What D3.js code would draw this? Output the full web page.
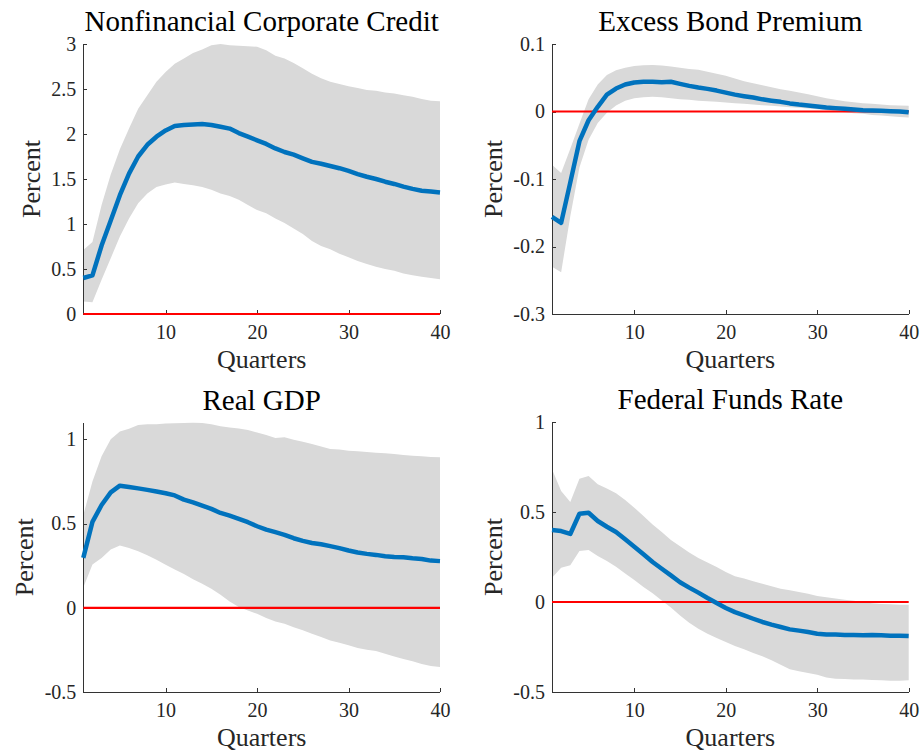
<!DOCTYPE html>
<html>
<head>
<meta charset="utf-8">
<script src="https://cdn.jsdelivr.net/npm/d3@7"></script>
<style>
	body { margin: 0; background: #fff; }
	svg { display: block; font-family: "Liberation Serif", "DejaVu Serif", serif; }
	.tick text { fill: #262626; font-size: 20px; }
	.axis path, .axis line { stroke: #333; shape-rendering: crispEdges; }
</style>
</head>
<body>
<div id="chart"></div>
<script>
// quarters after the shock
var quarters = d3.range(1, 41);
var xTicks = [10, 20, 30, 40];

// Nonfinancial corporate credit: median response and error band
var credit = [0.40, 0.43, 0.76, 1.04, 1.32, 1.56, 1.75, 1.88, 1.97, 2.04,
	2.09, 2.10, 2.105, 2.11, 2.10, 2.08, 2.06, 2.01, 1.97, 1.93,
	1.89, 1.84, 1.80, 1.77, 1.73, 1.69, 1.67, 1.645, 1.62, 1.59,
	1.555, 1.525, 1.50, 1.47, 1.445, 1.415, 1.39, 1.37, 1.36, 1.35];
var creditHi = [0.71, 0.80, 1.21, 1.55, 1.83, 2.06, 2.28, 2.43, 2.58, 2.69,
	2.78, 2.84, 2.90, 2.94, 2.985, 3.0, 2.985, 2.98, 2.975, 2.97,
	2.93, 2.87, 2.84, 2.79, 2.73, 2.67, 2.62, 2.58, 2.555, 2.53,
	2.51, 2.49, 2.48, 2.46, 2.45, 2.43, 2.415, 2.39, 2.37, 2.365];
var creditLo = [0.14, 0.13, 0.38, 0.62, 0.86, 1.06, 1.23, 1.34, 1.41, 1.44,
	1.46, 1.445, 1.43, 1.41, 1.38, 1.34, 1.31, 1.27, 1.21, 1.155,
	1.12, 1.06, 1.01, 0.95, 0.89, 0.81, 0.755, 0.72, 0.67, 0.63,
	0.59, 0.555, 0.525, 0.50, 0.48, 0.45, 0.43, 0.415, 0.40, 0.385];

// Excess bond premium
var ebp = [-0.156, -0.165, -0.105, -0.044, -0.013, 0.007, 0.025, 0.034, 0.040, 0.043,
	0.044, 0.044, 0.0435, 0.044, 0.041, 0.038, 0.0355, 0.0335, 0.031, 0.028,
	0.025, 0.0227, 0.0207, 0.018, 0.016, 0.0143, 0.012, 0.0103, 0.009, 0.0074,
	0.006, 0.005, 0.004, 0.003, 0.002, 0.0015, 0.001, 0.0005, 0, -0.001];
var ebpHi = [-0.079, -0.091, -0.055, -0.018, 0.018, 0.040, 0.054, 0.061, 0.065, 0.0675,
	0.0685, 0.069, 0.068, 0.0667, 0.065, 0.063, 0.062, 0.059, 0.056, 0.053,
	0.049, 0.045, 0.042, 0.039, 0.036, 0.033, 0.0306, 0.028, 0.0257, 0.0227,
	0.0198, 0.0173, 0.0153, 0.0138, 0.0123, 0.0114, 0.0104, 0.0094, 0.0089, 0.0084];
var ebpLo = [-0.23, -0.238, -0.155, -0.083, -0.042, -0.017, -0.002, 0.009, 0.016, 0.0195,
	0.021, 0.022, 0.021, 0.0195, 0.018, 0.0173, 0.016, 0.0153, 0.0143, 0.0133,
	0.0123, 0.0114, 0.0104, 0.0094, 0.0084, 0.0074, 0.0064, 0.0054, 0.0044, 0.0035,
	0.002, 0.0005, -0.001, -0.0025, -0.0035, -0.005, -0.006, -0.007, -0.008, -0.009];

// Real GDP
var gdp = [0.296, 0.51, 0.61, 0.685, 0.725, 0.717, 0.709, 0.70, 0.69, 0.68,
	0.667, 0.642, 0.626, 0.607, 0.587, 0.563, 0.547, 0.528, 0.508, 0.484,
	0.464, 0.449, 0.433, 0.413, 0.397, 0.385, 0.377, 0.366, 0.354, 0.34,
	0.328, 0.32, 0.314, 0.306, 0.302, 0.30, 0.294, 0.29, 0.28, 0.277];
var gdpHi = [0.55, 0.75, 0.90, 1.0, 1.047, 1.063, 1.085, 1.09, 1.09, 1.094,
	1.095, 1.097, 1.099, 1.097, 1.089, 1.077, 1.07, 1.065, 1.055, 1.04,
	1.026, 1.008, 1.012, 0.998, 0.986, 0.972, 0.957, 0.943, 0.939, 0.933,
	0.929, 0.925, 0.921, 0.917, 0.913, 0.907, 0.902, 0.90, 0.895, 0.893];
var gdpLo = [0.12, 0.257, 0.295, 0.346, 0.37, 0.355, 0.335, 0.312, 0.285, 0.256,
	0.228, 0.20, 0.17, 0.142, 0.113, 0.077, 0.038, 0.004, -0.016, -0.036,
	-0.061, -0.081, -0.095, -0.115, -0.134, -0.154, -0.174, -0.194, -0.207, -0.223,
	-0.239, -0.249, -0.257, -0.273, -0.289, -0.304, -0.318, -0.334, -0.346, -0.352];

// Federal funds rate
var ffr = [0.40, 0.394, 0.378, 0.49, 0.496, 0.45, 0.418, 0.389, 0.348, 0.307,
	0.265, 0.222, 0.185, 0.148, 0.11, 0.08, 0.052, 0.022, -0.006, -0.033,
	-0.056, -0.074, -0.093, -0.111, -0.126, -0.139, -0.152, -0.159, -0.167, -0.176,
	-0.181, -0.181, -0.183, -0.183, -0.185, -0.183, -0.185, -0.187, -0.187, -0.189];
var ffrHi = [0.737, 0.617, 0.555, 0.685, 0.70, 0.654, 0.63, 0.604, 0.567, 0.524,
	0.478, 0.431, 0.389, 0.345, 0.31, 0.275, 0.245, 0.219, 0.194, 0.167,
	0.143, 0.13, 0.115, 0.102, 0.087, 0.074, 0.065, 0.056, 0.046, 0.033,
	0.026, 0.019, 0.013, 0.007, 0.0, -0.007, -0.011, -0.013, -0.015, -0.015];
var ffrLo = [0.135, 0.19, 0.204, 0.283, 0.289, 0.255, 0.228, 0.196, 0.159, 0.122,
	0.083, 0.048, 0.009, -0.03, -0.075, -0.115, -0.148, -0.176, -0.2, -0.222,
	-0.244, -0.263, -0.283, -0.302, -0.324, -0.348, -0.374, -0.385, -0.394, -0.404,
	-0.419, -0.426, -0.428, -0.43, -0.431, -0.433, -0.435, -0.437, -0.437, -0.435];

// y tick values per panel
var creditTicks = [0, 0.5, 1, 1.5, 2, 2.5, 3];
var ebpTicks = [-0.3, -0.2, -0.1, 0, 0.1];
var gdpTicks = [-0.5, 0, 0.5, 1];
var ffrTicks = [-0.5, 0, 0.5, 1];

var panels = [
	{ title: "Nonfinancial Corporate Credit", mid: credit, lo: creditLo, hi: creditHi, domain: [0, 3], ticks: creditTicks, left: 83.3, top: 44, bottom: 314 },
	{ title: "Excess Bond Premium", mid: ebp, lo: ebpLo, hi: ebpHi, domain: [-0.3, 0.1], ticks: ebpTicks, left: 552, top: 44, bottom: 314 },
	{ title: "Real GDP", mid: gdp, lo: gdpLo, hi: gdpHi, domain: [-0.5, 1.1], ticks: gdpTicks, left: 83.3, top: 422.5, bottom: 692 },
	{ title: "Federal Funds Rate", mid: ffr, lo: ffrLo, hi: ffrHi, domain: [-0.5, 1], ticks: ffrTicks, left: 552, top: 422, bottom: 692 }
];
var plotWidth = 356.7;

var svg = d3.select("#chart").append("svg")
	.attr("width", 922)
	.attr("height", 752);

panels.forEach(function(p)
{
	var x = d3.scaleLinear().domain([1, 40]).range([p.left, p.left + plotWidth]);
	var y = d3.scaleLinear().domain(p.domain).range([p.bottom, p.top]);
	var g = svg.append("g");

	var band = d3.area()
		.x(function(d, i) { return x(quarters[i]); })
		.y0(function(d, i) { return y(p.lo[i]); })
		.y1(function(d, i) { return y(p.hi[i]); });

	g.append("path")
		.attr("d", band(p.mid))
		.attr("fill", "#d9d9d9");

	// axes (box off, ticks pointing in)
	g.append("g")
		.attr("class", "axis")
		.attr("transform", "translate(0," + p.bottom + ")")
		.call(d3.axisBottom(x).tickValues(xTicks).tickSizeInner(-4).tickSizeOuter(0).tickPadding(11))
		.call(function(a) { a.select(".domain").attr("d", "M" + p.left + ",0.5H" + (p.left + plotWidth)); });

	var yAxis = g.append("g")
		.attr("class", "axis")
		.attr("transform", "translate(" + p.left + ",0)")
		.call(d3.axisLeft(y).tickValues(p.ticks).tickSizeInner(-4).tickSizeOuter(0).tickPadding(7)
			.tickFormat(function(d) { return String(d); }))
		.call(function(a) { a.select(".domain").attr("d", "M0.5," + p.top + "V" + p.bottom); });

	g.selectAll(".axis").attr("font-size", null).attr("font-family", null);

	var line = d3.line()
		.x(function(d, i) { return x(quarters[i]); })
		.y(function(d) { return y(d); });

	g.append("line")
		.attr("x1", x(1)).attr("x2", x(40))
		.attr("y1", y(0)).attr("y2", y(0))
		.attr("stroke", "#ff0000")
		.attr("stroke-width", 2.2);

	g.append("path")
		.attr("d", line(p.mid))
		.attr("fill", "none")
		.attr("stroke", "#0072bd")
		.attr("stroke-width", 4.5)
		.attr("stroke-linejoin", "round");

	// titles and labels
	var cx = p.left + plotWidth / 2;
	g.append("text")
		.attr("x", cx)
		.attr("y", p.top - 13)
		.attr("text-anchor", "middle")
		.style("font-size", "29px")
		.style("fill", "#000")
		.text(p.title);

	g.append("text")
		.attr("x", cx)
		.attr("y", p.bottom + 54)
		.attr("text-anchor", "middle")
		.style("font-size", "26px")
		.style("fill", "#262626")
		.text("Quarters");

	var minX = d3.min(yAxis.selectAll("text").nodes(), function(n) { return n.getBBox().x; });
	var lx = p.left + minX - 11.5;
	var ly = (p.top + p.bottom) / 2;
	g.append("text")
		.attr("transform", "translate(" + lx + "," + ly + ") rotate(-90)")
		.attr("text-anchor", "middle")
		.style("font-size", "26px")
		.style("fill", "#262626")
		.text("Percent");
});
</script>
</body>
</html>
